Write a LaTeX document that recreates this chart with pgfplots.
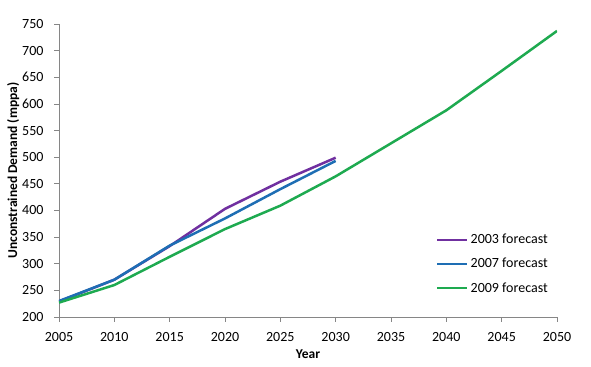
\documentclass[border=0pt]{standalone}
\usepackage{pgfplots}
\pgfplotsset{compat=1.18}
\usepackage{fontspec}
\setmainfont{Carlito}
\definecolor{c03}{RGB}{112,48,160}
\definecolor{c07}{RGB}{30,110,180}
\definecolor{c09}{RGB}{30,170,80}
\definecolor{axgray}{RGB}{134,134,134}
\begin{document}
\begin{tikzpicture}
\begin{axis}[
  scale only axis,
  width=498pt, height=293pt,
  xmin=2005, xmax=2050, ymin=200, ymax=750,
  xtick={2005,2010,...,2050}, ytick={200,250,...,750},
  axis x line*=bottom, axis y line*=left,
  axis line style={axgray, line width=0.8pt},
  tick style={axgray, line width=0.8pt},
  tick align=outside, major tick length=5pt,
  /pgf/number format/1000 sep={},
  /pgf/number format/assume math mode=true,
  tick label style={font=\fontsize{14}{16}\selectfont, text=black},
  xticklabel style={anchor=north, yshift=-7pt},
  yticklabel style={anchor=east, xshift=-7pt},
  xlabel={\textbf{Year}}, ylabel={\textbf{Unconstrained Demand (mppa)}},
  label style={font=\fontsize{13.5}{15}\selectfont},
  xlabel style={at={(axis description cs:0.5,-0.126)}, anchor=center},
  ylabel style={at={(axis description cs:-0.092,0.5)}, anchor=center},
  legend style={at={(0.757,0.29)}, anchor=north west, draw=none, fill=none,
    font=\fontsize{14}{16}\selectfont, row sep=9pt, inner sep=0pt},
  legend cell align=left,
  legend image code/.code={\draw[#1, line width=2.5pt] (0pt,0pt) -- (30pt,0pt);},
  every axis plot/.append style={line width=2.5pt},
]
\addplot[c03] coordinates {(2005,229) (2010,270) (2015,333) (2020,403) (2025,454) (2030,499)};
\addplot[c07] coordinates {(2005,230) (2010,270) (2015,334) (2020,385) (2025,440) (2030,493)};
\addplot[c09] coordinates {(2005,227) (2010,260) (2015,313) (2020,365) (2025,409) (2030,464) (2035,526) (2040,588) (2045,662) (2050,737)};
\legend{2003 forecast, 2007 forecast, 2009 forecast}
\end{axis}
\path ([xshift=-59pt,yshift=-50pt]current axis.south west) rectangle ([xshift=34pt,yshift=24pt]current axis.north east);
\end{tikzpicture}
\end{document}
